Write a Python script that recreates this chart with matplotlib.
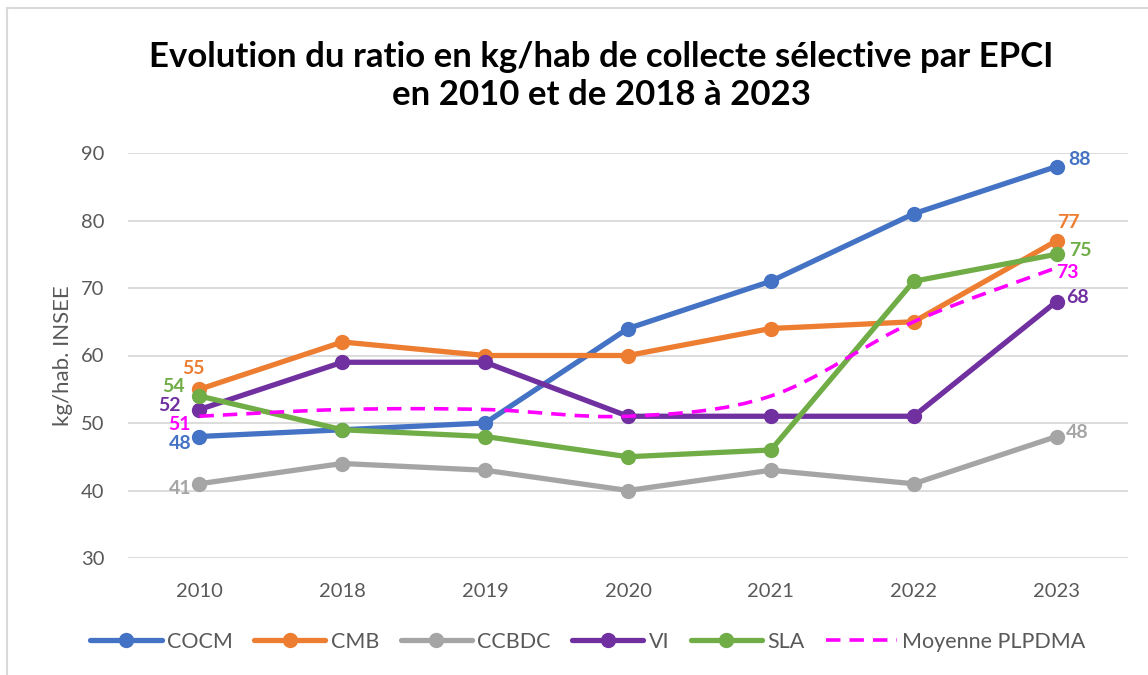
import matplotlib.pyplot as plt
from matplotlib.path import Path
from matplotlib.patches import PathPatch
from matplotlib.lines import Line2D

plt.rcParams['font.family'] = ['Lato', 'DejaVu Sans']

years = ["2010", "2018", "2019", "2020", "2021", "2022", "2023"]
cocm = [48, 49, 50, 64, 71, 81, 88]
cmb = [55, 62, 60, 60, 64, 65, 77]
ccbdc = [41, 44, 43, 40, 43, 41, 48]
vi = [52, 59, 59, 51, 51, 51, 68]
sla = [54, 49, 48, 45, 46, 71, 75]
moyenne = [51, 52, 52, 51, 54, 65, 73]

fig = plt.figure(figsize=(11.48, 6.75), dpi=100)
ax = fig.add_axes([128 / 1148, 1 - 558 / 675, 1000 / 1148, 405 / 675])

x = list(range(len(years)))
series = [("COCM", cocm, "#4472C4"), ("CMB", cmb, "#ED7D31"), ("CCBDC", ccbdc, "#A5A5A5"),
          ("VI", vi, "#7030A0"), ("SLA", sla, "#70AD47")]
handles = []
for name, vals, col in series:
    h, = ax.plot(x, vals, color=col, lw=3.8, marker='o', markersize=10, label=name,
                 solid_capstyle='round', zorder=3)
    handles.append(h)

# smoothed dashed line (Excel-style smoothing)
verts = [(x[0], moyenne[0])]
codes = [Path.MOVETO]
n = len(x)
for i in range(n - 1):
    p0 = (x[max(i - 1, 0)], moyenne[max(i - 1, 0)])
    p1 = (x[i], moyenne[i])
    p2 = (x[i + 1], moyenne[i + 1])
    p3 = (x[min(i + 2, n - 1)], moyenne[min(i + 2, n - 1)])
    c1 = (p1[0] + (p2[0] - p0[0]) / 6, p1[1] + (p2[1] - p0[1]) / 6)
    c2 = (p2[0] - (p3[0] - p1[0]) / 6, p2[1] - (p3[1] - p1[1]) / 6)
    verts += [c1, c2, p2]
    codes += [Path.CURVE4] * 3
ax.add_patch(PathPatch(Path(verts, codes), fill=False, edgecolor="#FF00FF", lw=2.6,
                       linestyle=(0, (4, 2.5)), zorder=4))
handles.append(Line2D([], [], color="#FF00FF", lw=2.6, linestyle=(0, (4, 2.5)),
                      label="Moyenne PLPDMA"))

# data labels (first and last points), offsets in pixels
labels = [
    (cocm, "#4472C4", (-19, -7), (23, 7)),
    (cmb, "#ED7D31", (-6, 21), (12, 18)),
    (ccbdc, "#A5A5A5", (-19, -5), (21, 4)),
    (vi, "#7030A0", (-30, 4), (21, 4)),
    (sla, "#70AD47", (-26, 10), (24, 4)),
    (moyenne, "#FF00FF", (-20, -8), (11, -5)),
]
for vals, col, off0, off1 in labels:
    ax.annotate(str(vals[0]), (x[0], vals[0]), xytext=off0, textcoords='offset pixels',
                ha='center', va='center', color=col, fontsize=14, fontweight='bold', zorder=5)
    ax.annotate(str(vals[-1]), (x[-1], vals[-1]), xytext=off1, textcoords='offset pixels',
                ha='center', va='center', color=col, fontsize=14, fontweight='bold', zorder=5)

ax.set_xlim(-0.5, n - 0.5)
ax.set_ylim(30, 90)
ax.set_yticks(range(30, 91, 10))
ax.set_xticks(x)
ax.set_xticklabels(years)
ax.grid(axis='y', color='#D9D9D9', lw=1.3)
ax.set_axisbelow(True)
for s in ax.spines.values():
    s.set_visible(False)
ax.tick_params(length=0, colors='#595959', labelsize=14.5)
ax.tick_params(axis='x', pad=18)
ax.tick_params(axis='y', pad=17)
ax.set_ylabel("kg/hab. INSEE", color='#595959', fontsize=16, labelpad=6)

fig.text(601 / 1148, 1 - 76 / 675,
         "Evolution du ratio en kg/hab de collecte sélective par EPCI\nen 2010 et de 2018 à 2023",
         ha='center', va='center', fontsize=25, fontweight='bold', linespacing=1.2)

fig.legend(handles=handles, loc='center', bbox_to_anchor=(588 / 1148, 1 - 642 / 675), ncol=6,
           frameon=False, fontsize=15.5, handlelength=3.3, handletextpad=0.25,
           columnspacing=1.0, labelcolor='#595959')

# chart frame
fig.add_artist(Line2D([7 / 1148, 7 / 1148], [0, 1 - 8 / 675], color='#D9D9D9', lw=1.5))
fig.add_artist(Line2D([7 / 1148, 1], [1 - 8 / 675, 1 - 8 / 675], color='#D9D9D9', lw=1.5))

fig.savefig("out.png", dpi=100)
